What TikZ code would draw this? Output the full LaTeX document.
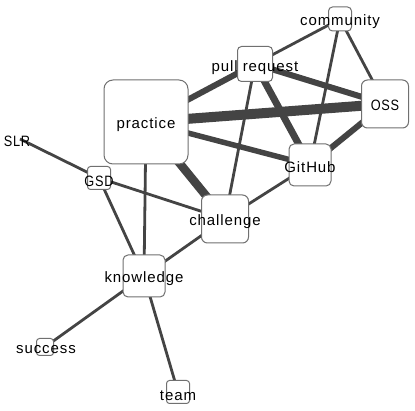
\documentclass[tikz,border=0pt]{standalone}
\usepackage{fontspec}
\setmainfont{Liberation Sans}[LetterSpace=6]
\usepackage{graphicx}
\pgfdeclarelayer{bg}
\pgfsetlayers{bg,main}
\definecolor{edgec}{HTML}{444444}
\definecolor{boxc}{HTML}{707070}
\tikzset{
  box/.style={draw=boxc, line width=1pt, fill=white, rounded corners=#1, inner sep=0pt},
  box/.default=4pt,
  lbl/.style={inner sep=0pt, font=\fontsize{15}{18}\selectfont, text=black},
  lnk/.style={draw=edgec, line width=#1},
  lnk/.default=2.8pt
}
\newcommand{\cnd}[1]{\scalebox{0.85}[1]{#1}}
\begin{document}
\begin{tikzpicture}[x=1pt,y=-1pt]
\useasboundingbox (0,0) rectangle (415,411);
% boxes
\node[box, minimum width=23pt, minimum height=24pt] (com) at (340,19) {};
\node[box, minimum width=35pt, minimum height=35pt] (pr) at (255,64) {};
\node[box=6pt, minimum width=47pt, minimum height=48pt] (oss) at (385,104) {};
\node[box=9pt, minimum width=84pt, minimum height=84pt] (prac) at (146,122) {};
\node[box=5pt, minimum width=42pt, minimum height=42pt] (gh) at (310,165) {};
\node[box=3pt, minimum width=23pt, minimum height=23pt] (gsd) at (99,178) {};
\node[inner sep=0pt, minimum size=2pt] (slr) at (20,139) {};
\node[box=6pt, minimum width=47pt, minimum height=48pt] (chal) at (225,219) {};
\node[box=5pt, minimum width=42pt, minimum height=42pt] (know) at (144,276) {};
\node[box=3pt, minimum width=17pt, minimum height=17pt] (succ) at (45,347) {};
\node[box=3pt, minimum width=23pt, minimum height=23pt] (team) at (178,392) {};
% labels
\node[lbl] (com-t) at (340,21.5) {community};
\node[lbl] (pr-t) at (255,67.5) {pull request};
\node[lbl] (oss-t) at (385,105.5) {\cnd{OSS}};
\node[lbl] (prac-t) at (146,124.5) {practice};
\node[lbl] (gh-t) at (310,167.5) {GitHub};
\node[lbl] (gsd-t) at (99,181.5) {\cnd{GSD}};
\node[lbl] (slr-t) at (17,141.5) {\cnd{SLR}};
\node[lbl] (chal-t) at (225,221.5) {challenge};
\node[lbl] (know-t) at (144,278.5) {knowledge};
\node[lbl] (succ-t) at (46,349.5) {success};
\node[lbl] (team-t) at (178,395.5) {team};
% edges
\begin{pgfonlayer}{bg}
\draw[lnk] (com.center) -- (pr.center);
\draw[lnk] (com.center) -- (gh.center);
\draw[lnk] (com.center) -- (oss.center);
\draw[lnk=6pt] (pr.center) -- (prac.center);
\draw[lnk=6pt] (pr.center) -- (oss.center);
\draw[lnk=7pt] (pr.center) -- (gh.center);
\draw[lnk] (pr.center) -- (chal.center);
\draw[lnk=10pt] (prac.center) -- (oss.center);
\draw[lnk=5.5pt] (prac.center) -- (gh.center);
\draw[lnk=8.5pt] (prac.center) -- (chal.center);
\draw[lnk] (prac.center) -- (know.center);
\draw[lnk=6pt] (oss.center) -- (gh.center);
\draw[lnk] (gh.center) -- (chal.center);
\draw[lnk] (slr.center) -- (gsd.center);
\draw[lnk] (gsd.center) -- (chal.center);
\draw[lnk] (gsd.center) -- (know.center);
\draw[lnk] (chal.center) -- (know.center);
\draw[lnk] (know.center) -- (succ.center);
\draw[lnk] (know.center) -- (team.center);
\end{pgfonlayer}
\end{tikzpicture}
\end{document}
